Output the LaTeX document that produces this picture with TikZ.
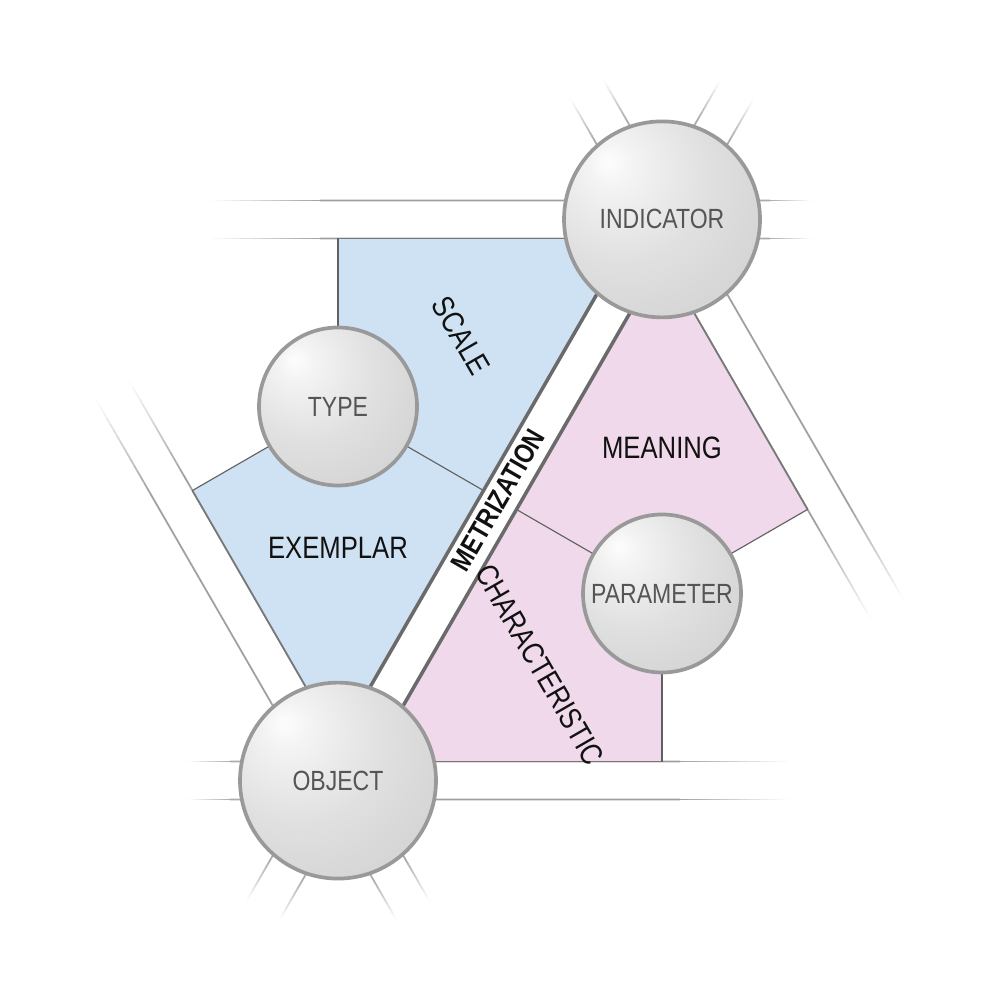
\documentclass[tikz,border=0pt]{standalone}
\usepackage{fontspec}
\setmainfont{Liberation Sans}[FakeStretch=0.83]
\usetikzlibrary{calc}
\definecolor{bandc}{HTML}{A0A0A0}
\definecolor{spokec}{HTML}{ACACAC}
\definecolor{edgec}{HTML}{787878}
\definecolor{divc}{HTML}{606060}
\definecolor{metc}{HTML}{6A6A6A}
\definecolor{bluef}{HTML}{CFE2F4}
\definecolor{pinkf}{HTML}{EFD9EA}
\definecolor{ringc}{HTML}{999999}
\definecolor{labc}{HTML}{555555}
\definecolor{regc}{HTML}{111111}
\definecolor{shA}{HTML}{FDFDFD}
\definecolor{shB}{HTML}{F3F3F3}
\definecolor{shC}{HTML}{E0E0E0}
\definecolor{shD}{HTML}{CECECE}
\definecolor{shE}{HTML}{BABABA}
\pgfdeclareradialshading{sphere}{\pgfpoint{-14bp}{15bp}}{%
  color(0bp)=(shA); color(6bp)=(shB); color(22bp)=(shC); color(45bp)=(shD); color(72bp)=(shE); color(80bp)=(shE)}
\newcommand\fadeline[4]{% from, to, fade start fraction, colour
  \draw[bandline, draw=#4] (#1) -- ($(#1)!#3!(#2)$);
  \foreach \k in {0,...,15}{%
    \pgfmathsetmacro\fdta{#3+(1-#3)*\k/16}%
    \pgfmathsetmacro\fdtb{#3+(1-#3)*(\k+1)/16}%
    \pgfmathtruncatemacro\fdpc{100-100*(\k+0.5)/16}%
    \draw[bandline, draw=#4!\fdpc!white] ($(#1)!\fdta!(#2)$) -- ($(#1)!\fdtb!(#2)$);
  }%
}
\tikzset{
  bandline/.style={line width=0.5pt},
  edgeline/.style={draw=edgec, line width=0.5pt},
  divline/.style={draw=divc, line width=0.32pt},
  metline/.style={draw=metc, line width=1.0pt},
  ball/.style={circle, inner sep=0pt, shading=sphere, draw=ringc, line width=1.05pt,
    text=labc, font=\fontsize{7.9}{9}\selectfont},
  bigball/.style={ball, minimum size=1.96cm},
  smallball/.style={ball, minimum size=1.58cm},
  region/.style={text=regc, inner sep=0pt, font=\fontsize{8.8}{10}\selectfont},
}
\begin{document}
\begin{tikzpicture}
\useasboundingbox (-5,-5) rectangle (5,5);
\fill[white] (-5,-5) rectangle (5,5);
% centres
\coordinate (O) at (-1.62,-2.806);
\coordinate (I) at (1.62,2.806);
% top band (through INDICATOR)
\coordinate (ta1) at (1.62,2.996);  \coordinate (ta2) at (1.62,2.616);
\coordinate (tL1) at (-2.88,2.996); \coordinate (tL2) at (-2.88,2.616);
\coordinate (tR1) at (3.12,2.996);  \coordinate (tR2) at (3.12,2.616);
% bottom band (through OBJECT)
\coordinate (ba1) at (-1.62,-2.616); \coordinate (ba2) at (-1.62,-2.996);
\coordinate (bR1) at (2.88,-2.616);  \coordinate (bR2) at (2.88,-2.996);
\coordinate (bL1) at (-3.12,-2.616); \coordinate (bL2) at (-3.12,-2.996);
% metrization band
\coordinate (mI1) at (1.7845,2.711);  \coordinate (mI2) at (1.4555,2.901);
\coordinate (mIe1) at (2.5345,4.01);  \coordinate (mIe2) at (2.2055,4.2);
\coordinate (mO1) at (-1.4555,-2.901); \coordinate (mO2) at (-1.7845,-2.711);
\coordinate (mOe1) at (-2.2055,-4.2); \coordinate (mOe2) at (-2.5345,-4.01);
% right band (through INDICATOR)
\coordinate (rI1) at (1.7845,2.901); \coordinate (rI2) at (1.4555,2.711);
\coordinate (rL1) at (4.0345,-0.996); \coordinate (rL2) at (3.7055,-1.186);
\coordinate (rS1) at (1.0345,4.2);   \coordinate (rS2) at (0.7055,4.01);
% left band (through OBJECT)
\coordinate (lO1) at (-1.4555,-2.711); \coordinate (lO2) at (-1.7845,-2.901);
\coordinate (lL1) at (-3.7055,1.186); \coordinate (lL2) at (-4.0345,0.996);
\coordinate (lS1) at (-0.7055,-4.01); \coordinate (lS2) at (-1.0345,-4.2);
% band lines
\fadeline{ta1}{tL1}{0.76}{bandc}
\fadeline{ta2}{tL2}{0.76}{bandc}
\fadeline{ta1}{tR1}{0.72}{spokec}
\fadeline{ta2}{tR2}{0.72}{spokec}
\fadeline{ba1}{bR1}{0.76}{bandc}
\fadeline{ba2}{bR2}{0.76}{bandc}
\fadeline{ba1}{bL1}{0.72}{spokec}
\fadeline{ba2}{bL2}{0.72}{spokec}
\fadeline{mI1}{mIe1}{0.7}{spokec}
\fadeline{mI2}{mIe2}{0.7}{spokec}
\fadeline{mO1}{mOe1}{0.7}{spokec}
\fadeline{mO2}{mOe2}{0.7}{spokec}
\fadeline{rI1}{rL1}{0.76}{bandc}
\fadeline{rI2}{rL2}{0.76}{bandc}
\fadeline{rI1}{rS1}{0.7}{spokec}
\fadeline{rI2}{rS2}{0.7}{spokec}
\fadeline{lO1}{lL1}{0.76}{bandc}
\fadeline{lO2}{lL2}{0.76}{bandc}
\fadeline{lO1}{lS1}{0.7}{spokec}
\fadeline{lO2}{lS2}{0.7}{spokec}
% regions
\coordinate (T) at (-1.62,0.935);
\coordinate (P) at (1.62,-0.935);
\coordinate (bTop) at (-1.62,2.616);
\coordinate (bTR) at (1.291,2.616);
\coordinate (bV) at (-1.62,-2.426);
\coordinate (bFl) at (-3.0757,0.0945);
\coordinate (bFm) at (-0.1643,0.0945);
\coordinate (pBot) at (1.62,-2.616);
\coordinate (pBL) at (-1.291,-2.616);
\coordinate (pV) at (1.62,2.426);
\coordinate (pFr) at (3.0757,-0.0945);
\coordinate (pFm) at (0.1643,-0.0945);
\fill[bluef] (bTop) -- (bTR) -- (bV) -- (bFl) -- (T) -- cycle;
\fill[pinkf] (pBot) -- (pBL) -- (pV) -- (pFr) -- (P) -- cycle;
\draw[edgeline] (bTop) -- (bTR);
\draw[edgeline] (bV) -- (bFl);
\draw[edgeline] (pBot) -- (pBL);
\draw[edgeline] (pV) -- (pFr);
\draw[divline] (T) -- (bTop);
\draw[divline] (T) -- (bFl);
\draw[divline] (T) -- (bFm);
\draw[divline] (P) -- (pBot);
\draw[divline] (P) -- (pFr);
\draw[divline] (P) -- (pFm);
\draw[metline] (mO2) -- (mI2);
\draw[metline] (mO1) -- (mI1);
% circles
\node[bigball] (ind) at (I) {INDICATOR};
\node[bigball] (obj) at (O) {OBJECT};
\node[smallball] (typ) at (T) {TYPE};
\node[smallball] (par) at (P) {PARAMETER};
% labels
\node[region, rotate=-60] (scale) at (-0.39,1.645) {SCALE};
\node[region] (exem) at (-1.62,-0.475) {EXEMPLAR};
\node[region] (mean) at (1.62,0.525) {MEANING};
\node[region, rotate=-60] (char) at (0.40,-1.645) {CHARACTERISTIC};
\node[region, rotate=60, font=\fontsize{8}{9}\selectfont\bfseries] (metr) at (-0.02,0.0) {METRIZATION};
\end{tikzpicture}
\end{document}
